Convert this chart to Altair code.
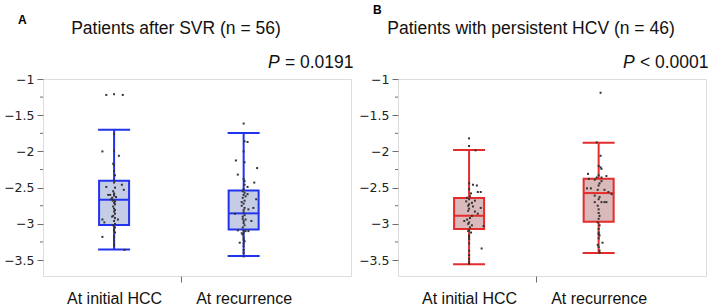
import altair as alt
import pandas as pd

GROUPS = ["At initial HCC", "At recurrence"]
PANEL_TITLES = ["Patients after SVR (n = 56)", "Patients with persistent HCV (n = 46)"]
PANEL_LETTERS = ["A", "B"]
P_SYMBOL = "P"
P_VALUES = ["= 0.0191", "< 0.0001"]
Y_TICKS = [-1.0, -1.5, -2.0, -2.5, -3.0, -3.5]

# box statistics: lower whisker, Q1, median, Q3, upper whisker
A_INIT_BOX = [-3.353, -3.017, -2.667, -2.404, -1.70]
A_REC_BOX = [-3.445, -3.077, -2.855, -2.538, -1.746]
B_INIT_BOX = [-3.557, -3.072, -2.888, -2.644, -1.98]
B_REC_BOX = [-3.403, -2.970, -2.575, -2.377, -1.88]

# individual patients (value, horizontal jitter in category units)
A_INIT_VALUES = [-1.22, -1.21, -1.22, -1.76, -2.00, -1.99, -2.06, -2.17, -2.19, -2.33, -2.40,
                 -2.49, -2.46, -2.53, -2.58, -2.59, -2.60, -2.60, -2.61, -2.66, -2.67, -2.69,
                 -2.68, -2.81, -2.83, -2.89, -2.92, -2.94, -2.94, -2.98, -3.05, -3.08, -3.17,
                 -3.20, -3.24, -3.18, -3.36, -2.43, -2.50, -2.55, -2.63, -2.64, -2.71, -2.73,
                 -2.76, -2.79, -2.86, -2.90, -2.96, -3.00, -3.02, -3.10, -3.12, -3.28, -3.30, -2.27]
A_INIT_JITTER = [-0.06, 0.0, 0.067, 0.0, -0.09, 0.0, 0.037, -0.007, 0.0, 0.007, 0.0,
                 -0.06, 0.06, 0.075, 0.0, 0.0, -0.045, -0.03, 0.0, -0.022, -0.007, 0.007,
                 -0.01, 0.007, 0.0, -0.007, 0.007, 0.03, -0.09, -0.075, 0.007, 0.0, 0.0,
                 0.0, 0.0, -0.09, 0.08, 0.0, 0.007, -0.007, 0.015, -0.015, 0.0, 0.007,
                 -0.007, 0.0, 0.007, -0.015, 0.0, 0.007, -0.007, 0.0, 0.007, 0.0, 0.0, 0.0]

A_REC_VALUES = [-1.615, -1.86, -1.87, -2.125, -2.15, -2.23, -2.32, -2.43, -2.41, -2.46, -2.49, -2.52,
                -2.57, -2.60, -2.59, -2.66, -2.70, -2.78, -2.80, -2.78, -2.81, -2.84, -2.86,
                -2.93, -2.94, -2.96, -2.96, -3.09, -3.09, -3.10, -3.10,
                -3.15, -3.19, -3.22, -3.26, -3.27, -3.31, -3.36, -3.45,
                -2.00, -2.38, -2.55, -2.62, -2.64, -2.68, -2.72, -2.75, -2.88, -2.90, -2.99,
                -3.02, -3.05, -3.12, -3.13, -3.24, -3.40]
A_REC_JITTER = [0.0, 0.007, 0.03, -0.06, 0.007, 0.104, -0.045, 0.082, 0.007, 0.007, 0.03, 0.0,
                0.007, 0.0, 0.03, 0.097, -0.015, 0.075, 0.037, 0.007, 0.0, 0.0, -0.067,
                -0.007, 0.015, 0.0, 0.06, -0.045, 0.0, 0.037, 0.015,
                -0.007, 0.0, 0.0, -0.03, 0.0, 0.0, 0.0, 0.0,
                0.0, 0.0, -0.007, 0.015, -0.007, 0.007, 0.0, -0.015, 0.007, -0.007, 0.0,
                0.007, -0.007, 0.0, -0.015, 0.007, 0.0]

B_INIT_VALUES = [-1.82, -1.925, -1.985, -2.44, -2.46, -2.47, -2.52, -2.58, -2.56, -2.56,
                 -2.66, -2.69, -2.68, -2.71, -2.73, -2.75, -2.76, -2.78,
                 -2.82, -2.83, -2.86, -2.89,
                 -2.96, -2.98, -3.00, -3.02, -3.03,
                 -3.09, -3.12, -3.16, -3.21, -3.27, -3.34, -3.37, -3.48, -3.52, -3.55,
                 -2.62, -2.64, -2.79, -2.92, -2.94, -3.05, -3.10, -3.18, -3.43]
B_INIT_JITTER = [0.0, 0.0, 0.05, 0.0, 0.03, 0.06, 0.0, 0.015, 0.067, 0.09,
                 0.0, -0.022, 0.045, 0.022, 0.0, -0.007, 0.03, 0.09,
                 -0.007, 0.045, 0.067, 0.022,
                 -0.037, 0.0, -0.007, 0.022, 0.112,
                 0.0, 0.015, 0.0, 0.0, 0.0, 0.097, 0.0, 0.0, 0.0, 0.0,
                 0.007, -0.015, 0.0, 0.007, -0.015, 0.007, -0.007, 0.0, 0.0]

B_REC_VALUES = [-1.19, -1.875, -2.06, -2.20, -2.22, -2.24, -2.31, -2.33, -2.34, -2.36, -2.36, -2.38,
                -2.39, -2.41, -2.47, -2.51, -2.51, -2.53, -2.53, -2.56, -2.59,
                -2.61, -2.66, -2.70, -2.70, -2.70, -2.70,
                -2.80, -2.85, -2.89, -2.93, -2.98,
                -3.07, -3.12, -3.14, -3.16, -3.26, -3.32, -3.37, -3.40,
                -2.44, -2.63, -2.75, -3.02, -3.20, -3.29]
B_REC_JITTER = [0.015, -0.015, 0.015, 0.0, 0.015, 0.022, -0.082, 0.0, 0.06, -0.015, 0.022, -0.075,
                -0.03, 0.022, 0.0, -0.09, -0.06, -0.007, 0.045, 0.075, 0.1,
                -0.03, 0.0, 0.022, -0.03, 0.045, 0.06,
                0.0, 0.0, 0.007, 0.0, -0.007,
                0.0, 0.0, 0.0, 0.007, 0.03, 0.0, 0.007, 0.007,
                0.007, 0.007, -0.007, 0.007, 0.0, -0.007]

W, H = 308, 197
FONT = "Liberation Sans"
AXIS_GREY = "#6f6f6f"

X_SCALE = alt.Scale(domain=[0.49, 2.79], nice=False, zero=False)
Y_SCALE = alt.Scale(domain=[-3.72, -1.0], nice=False, zero=False)
LABEL_EXPR = ("datum.value == 1 ? '%s' : (datum.value == 2 ? '%s' : '')"
              % (GROUPS[0], GROUPS[1]))
X_AXIS = alt.Axis(
    values=[1, 1.52, 2], labelExpr=LABEL_EXPR, title=None, domain=False, grid=False,
    tickSize=6, tickColor=AXIS_GREY, tickWidth=1,
    tickOpacity={"condition": {"test": "datum.value == 1.52", "value": 1}, "value": 0},
    labelFont=FONT, labelFontSize=16, labelColor="#111", labelPadding=8,
    labelOverlap=False, labelFlush=False,
)
Y_AXIS = alt.Axis(
    values=Y_TICKS, title=None, domain=False, grid=False,
    labelExpr="replace(toString(datum.value), '-', '\u2212')",
    tickSize=6, tickColor=AXIS_GREY, tickWidth=1, ticks=True, labels=True,
    labelFont="DejaVu Sans", labelFontSize=12.5, labelColor="#222", labelPadding=3,
    minExtent=42, maxExtent=42, labelOverlap=False, labelFlush=False,
)


def X(field):
    return alt.X(field, type="quantitative", scale=X_SCALE, axis=X_AXIS)


def Y(field):
    return alt.Y(field, type="quantitative", scale=Y_SCALE, axis=Y_AXIS)


def make_panel(letter, title, pval, boxes, values, jitters, fill, stroke, letter_y):
    box_df = pd.DataFrame({
        "pos": [1, 2],
        "group": GROUPS,
        "lo": [b[0] for b in boxes],
        "q1": [b[1] for b in boxes],
        "med": [b[2] for b in boxes],
        "q3": [b[3] for b in boxes],
        "hi": [b[4] for b in boxes],
    })
    xs, ys = [], []
    for i, (vals, jits) in enumerate(zip(values, jitters)):
        for v, j in zip(vals, jits):
            xs.append(i + 1 + j)
            ys.append(v)
    pts_df = pd.DataFrame({"x": xs, "y": ys})
    minor_df = pd.DataFrame({"v": [(a + b) / 2 for a, b in zip(Y_TICKS[:-1], Y_TICKS[1:])]})

    base = alt.Chart(box_df)
    whisker = base.mark_rule(color=stroke, strokeWidth=2).encode(
        x=X("pos"), y=Y("lo"), y2="hi:Q")
    box = base.mark_bar(size=30, fill=fill, stroke=stroke, strokeWidth=2, opacity=1).encode(
        x=X("pos"), y=Y("q1"), y2="q3:Q")
    median = base.mark_tick(orient="horizontal", size=31, thickness=2, color=stroke, opacity=1).encode(
        x=X("pos"), y=Y("med"))
    cap_lo = base.mark_tick(orient="horizontal", size=32, thickness=2, color=stroke, opacity=1).encode(
        x=X("pos"), y=Y("lo"))
    cap_hi = base.mark_tick(orient="horizontal", size=32, thickness=2, color=stroke, opacity=1).encode(
        x=X("pos"), y=Y("hi"))
    points = alt.Chart(pts_df).mark_square(size=4, color="#333333", opacity=1).encode(
        x=X("x"), y=Y("y"))
    minor_ticks = alt.Chart(minor_df).mark_rule(color=AXIS_GREY, strokeWidth=1).encode(
        y=Y("v"), x=alt.value(-3), x2=alt.value(0))

    txt = alt.Chart(pd.DataFrame({"letter": [letter], "title": [title], "p": [P_SYMBOL], "pv": [pval]}))
    t_letter = txt.mark_text(font=FONT, fontSize=12, fontWeight="bold", align="left",
                             baseline="alphabetic", color="#000").encode(
        text="letter:N", x=alt.value(-25), y=alt.value(letter_y))
    t_title = txt.mark_text(font=FONT, fontSize=17.5, align="center", baseline="alphabetic",
                            color="#111").encode(
        text="title:N", x=alt.value(133), y=alt.value(-45.5))
    t_p = txt.mark_text(font=FONT, fontSize=17.5, fontStyle="italic", align="left",
                        baseline="alphabetic", color="#111").encode(
        text="p:N", x=alt.value(225), y=alt.value(-11.5))
    t_pv = txt.mark_text(font=FONT, fontSize=17.5, align="right", baseline="alphabetic",
                         color="#111").encode(
        text="pv:N", x=alt.value(310.5), y=alt.value(-11.5))

    return alt.layer(whisker, box, median, cap_lo, cap_hi, points, minor_ticks,
                     t_letter, t_title, t_p, t_pv).properties(width=W, height=H)


panel_a = make_panel(PANEL_LETTERS[0], PANEL_TITLES[0], P_VALUES[0],
                     [A_INIT_BOX, A_REC_BOX], [A_INIT_VALUES, A_REC_VALUES],
                     [A_INIT_JITTER, A_REC_JITTER], "#c5cde6", "#2233f0", -55.3)
panel_b = make_panel(PANEL_LETTERS[1], PANEL_TITLES[1], P_VALUES[1],
                     [B_INIT_BOX, B_REC_BOX], [B_INIT_VALUES, B_REC_VALUES],
                     [B_INIT_JITTER, B_REC_JITTER], "#d9b9ba", "#e52b2b", -65.3)

chart = alt.hconcat(panel_a, panel_b, spacing=47, bounds="flush").properties(
    padding={"left": 0, "top": 3, "right": 0, "bottom": 0}
).configure_view(stroke="#888", strokeWidth=1.5).configure(background="white")

chart.save("out.html", embed_options={"renderer": "svg", "actions": False})
